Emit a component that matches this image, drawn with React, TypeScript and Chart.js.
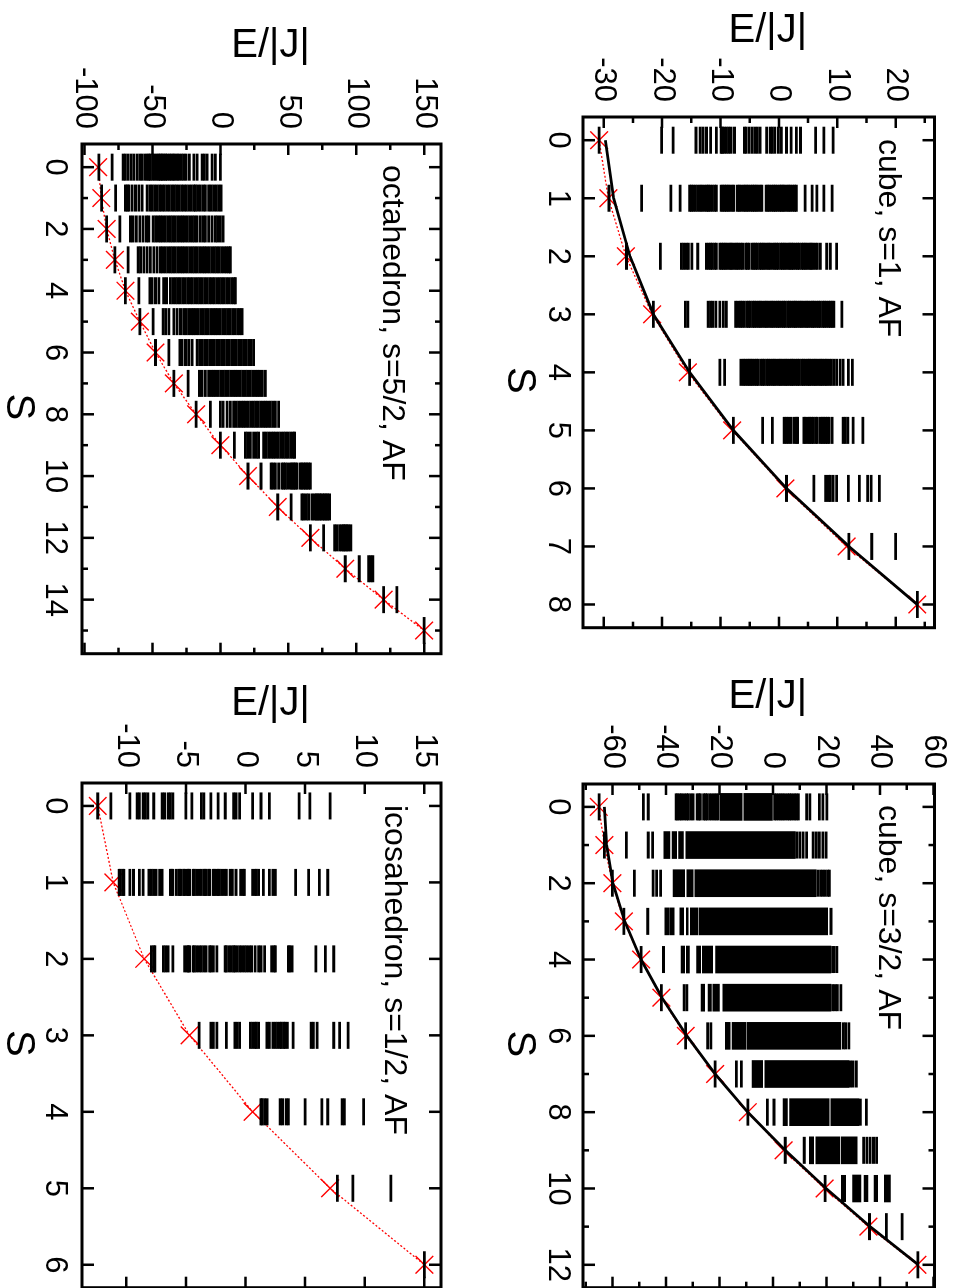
import React, { useEffect, useRef } from "react";
import { Chart, registerables } from "chart.js";

Chart.register(...registerables);

const FONT = '"Liberation Sans", Arial, Helvetica, sans-serif';

// ---------------- Panel: cube, s=1, AF ----------------
const cube1Spins = [0, 1, 2, 3, 4, 5, 6, 7, 8];
const cube1Levels: number[][] = [
  [-30.8, -20.1, -18.1, -14.2, -13.5, -13.0, -12.4, -11.7, -10.7, -9.9, -9.7, -9.4, -9.0, -8.6, -8.2, -7.6, -5.9, -5.6, -5.1, -4.6, -4.1, -3.7, -3.2, -2.1, -1.5, -1.1, -0.7, -0.1, 0.4, 1.3, 2.1, 3.0, 3.7, 6.3, 7.7, 9.3],
  [-29.1, -23.5, -18.5, -16.9, -15.3, -15.0, -14.7, -14.3, -13.9, -13.5, -13.2, -12.8, -12.4, -12.1, -11.8, -11.4, -11.0, -10.7, -9.9, -9.6, -9.3, -9.0, -8.7, -8.4, -8.0, -7.7, -7.1, -6.8, -6.5, -6.1, -5.8, -5.5, -5.2, -4.8, -4.5, -4.2, -3.9, -3.6, -3.2, -2.9, -2.2, -1.9, -1.6, -1.2, -0.9, -0.6, -0.3, 0.1, 0.4, 0.7, 1.0, 1.4, 1.7, 2.0, 2.4, 2.7, 3.0, 4.5, 5.7, 6.5, 7.7, 9.1],
  [-26.1, -20.3, -16.7, -16.3, -15.9, -15.5, -14.9, -13.9, -12.4, -12.0, -11.7, -11.4, -11.0, -10.7, -10.1, -9.8, -9.5, -9.2, -8.9, -8.5, -8.2, -7.9, -7.5, -7.2, -6.9, -6.5, -6.2, -5.7, -5.4, -5.1, -4.6, -4.3, -4.0, -3.7, -3.3, -3.0, -2.7, -2.4, -2.0, -1.7, -1.4, -1.0, -0.7, -0.4, -0.1, 0.3, 0.6, 0.9, 1.2, 1.6, 1.9, 2.2, 2.5, 2.9, 3.2, 3.5, 3.9, 4.2, 4.5, 4.8, 5.2, 5.5, 5.8, 6.2, 6.6, 7.1, 8.2, 8.8, 9.9],
  [-21.5, -16.0, -15.6, -12.1, -11.7, -11.3, -10.8, -10.1, -9.5, -9.0, -7.4, -7.0, -6.6, -6.3, -5.9, -5.5, -5.2, -4.9, -4.5, -4.2, -3.9, -3.5, -3.2, -2.9, -2.5, -2.2, -1.9, -1.5, -1.2, -0.9, -0.5, -0.2, 0.1, 0.5, 0.8, 1.1, 1.5, 1.8, 2.1, 2.5, 2.8, 3.1, 3.5, 3.8, 4.1, 4.5, 4.8, 5.1, 5.5, 5.8, 6.1, 6.5, 6.8, 7.1, 7.5, 7.8, 8.1, 8.5, 8.8, 9.1, 9.4, 10.8],
  [-15.3, -10.1, -9.3, -6.5, -6.1, -5.8, -5.4, -5.1, -4.8, -4.5, -4.1, -3.8, -3.5, -3.1, -2.8, -2.5, -2.1, -1.8, -1.5, -1.1, -0.8, -0.5, -0.1, 0.2, 0.5, 0.9, 1.2, 1.5, 1.9, 2.2, 2.5, 2.9, 3.2, 3.5, 3.9, 4.2, 4.5, 4.9, 5.2, 5.5, 5.9, 6.2, 6.5, 6.9, 7.2, 7.5, 7.9, 8.2, 8.6, 9.0, 9.4, 9.9, 10.5, 11.0, 11.9, 12.6],
  [-7.8, -2.8, -1.1, 0.9, 1.3, 1.7, 2.1, 2.6, 3.0, 3.2, 4.3, 4.6, 5.0, 5.3, 5.6, 5.9, 6.3, 6.6, 7.1, 7.4, 7.7, 8.0, 8.3, 8.6, 9.1, 11.0, 11.4, 11.8, 12.7, 14.4],
  [1.3, 6.0, 8.0, 8.5, 8.8, 9.3, 9.9, 11.9, 13.8, 15.2, 15.8, 17.2],
  [12.0, 15.9, 20.0],
  [23.7],
];
const cube1Cross = [-30.8, -29.2, -26.2, -21.7, -15.6, -8.0, 1.1, 11.6, 23.7];
const cube1Curve = [-29.7, -28.3, -25.5, -21.5, -15.3, -7.8, 1.3, 12.0, 23.7];
const cube1SpinTicks = [0, 1, 2, 3, 4, 5, 6, 7, 8];
const cube1SpinMinor: number[] = [];
const cube1EnergyTicks = [-30, -20, -10, 0, 10, 20];
const cube1EnergyMinor = [-25, -15, -5, 5, 15, 25];

// ---------------- Panel: cube, s=3/2, AF ----------------
const cube32Spins = [0, 1, 2, 3, 4, 5, 6, 7, 8, 9, 10, 11, 12];
const cube32Levels: number[][] = [
  [-65.0, -48.4, -46.6, -36.2, -35.6, -34.8, -34.1, -33.2, -32.3, -31.6, -30.7, -29.8, -28.3, -27.7, -27.1, -25.9, -25.2, -24.6, -23.7, -22.8, -22.0, -21.2, -20.5, 0.6, 1.4, 2.2, 3.0, 3.7, 4.5, 5.4, 6.2, 7.0, 7.9, 8.7, 9.5, 12.6, 13.8, 17.4, 18.7, 20.2],
  [-63.0, -54.8, -46.6, -45.0, 8.9, 10.1, 11.3, 12.6, 15.0, 16.2, 17.4, 18.7, 19.9],
  [-60.0, -51.8, -44.8, -43.5, -42.0, 16.8, 17.8, 18.7, 19.5, 20.5, 21.1],
  [-55.7, -46.8, 21.7],
  [-49.3, -40.9, 22.3, 22.9, 23.9],
  [-41.7, -33.2, -32.2, 22.3, 23.2, 24.1, 25.4],
  [-32.6, -24.4, -23.2, 26.3, 27.2, 28.4],
  [-21.6, -13.7, -11.8, 29.0, 30.0, 31.2],
  [-9.4, -2.1, 0.4, 32.7, 34.9],
  [4.6, 11.7, 33.9, 35.1, 36.3, 37.6, 38.8],
  [19.5, 26.0, 26.8, 34.5, 35.1, 38.2, 38.8],
  [36.1, 42.4, 48.3],
  [54.2],
];
// unresolved dense groups of levels: [S, lowest E, highest E]
const cube32Bands: number[][] = [
  [0, -19.8, -11.5], [0, -10.9, -0.2],
  [1, -40.8, -38.5], [1, -37.7, -36.0], [1, -35.3, -33.5], [1, -32.6, 8.3],
  [2, -37.3, -33.0], [2, -32.2, -29.8], [2, -29.2, 16.2],
  [3, -40.4, -39.0], [3, -38.6, -36.9], [3, -34.8, -33.4], [3, -32.4, -31.7], [3, -30.9, -28.0], [3, -27.6, 20.5],
  [4, -34.3, -33.0], [4, -32.4, -31.2], [4, -28.5, -27.0], [4, -26.4, -22.5], [4, -21.4, 21.7],
  [5, -26.9, -25.5], [5, -24.2, -23.0], [5, -22.5, -20.0], [5, -18.7, 21.7],
  [6, -17.8, -16.0], [6, -15.3, -10.0], [6, -9.6, 25.4],
  [7, -7.8, -3.8], [7, -3.0, 28.4],
  [8, 3.8, 5.4], [8, 6.2, 21.0], [8, 21.6, 32.1],
  [9, 13.6, 15.2], [9, 16.0, 25.0], [9, 25.6, 31.5],
  [10, 29.8, 32.9], [10, 41.6, 43.9],
];
const cube32Cross = [-65.1, -63.0, -60.0, -55.7, -49.3, -41.7, -32.6, -21.6, -9.4, 4.0, 19.3, 35.7, 54.0];
const cube32Curve = [-63.0, -62.2, -59.8, -55.4, -49.3, -41.5, -32.2, -21.6, -9.4, 4.6, 19.9, 36.3, 54.4];
const cube32SpinTicks = [0, 2, 4, 6, 8, 10, 12];
const cube32SpinMinor = [1, 3, 5, 7, 9, 11];
const cube32EnergyTicks = [-60, -40, -20, 0, 20, 40, 60];
const cube32EnergyMinor = [-70, -50, -30, -10, 10, 30, 50];

// ---------------- Panel: octahedron, s=5/2, AF ----------------
const octaSpins = [0, 1, 2, 3, 4, 5, 6, 7, 8, 9, 10, 11, 12, 13, 14, 15];
const octaLevels: number[][] = [
  [-89.5, -79.7, -71.6, -69.9, -67.9, -65.7, -63.7, -61.3, -59.3, -57.6, -55.6, -53.9, -52.7, -51.5, -49.8, -48.3, -46.6, -45.3, -44.1, -42.9, -41.7, -40.4, -39.2, -37.5, -36.3, -34.8, -33.6, -31.9, -30.6, -28.7, -27.0, -25.2, -22.8, -19.6, -17.2, -13.5, -11.8, -9.8, -6.1, -3.7, 0.0],
  [-87.5, -77.2, -69.9, -68.6, -67.4, -65.0, -62.5, -60.0, -57.6, -53.9, -52.0, -50.2, -48.5, -46.6, -44.8, -43.0, -41.2, -39.4, -37.6, -35.8, -34.0, -32.2, -30.4, -28.6, -26.8, -25.0, -23.2, -21.4, -19.6, -18.4, -16.7, -14.7, -12.7, -11.0, -8.6, -6.9, -4.9, -2.9, -1.2, 0.5],
  [-83.8, -74.0, -66.2, -64.2, -61.8, -59.3, -56.9, -54.4, -52.7, -49.5, -47.7, -45.9, -44.1, -42.3, -40.5, -38.7, -36.9, -35.1, -33.3, -31.5, -29.7, -27.9, -26.1, -24.3, -22.5, -20.7, -18.9, -17.2, -14.7, -12.7, -11.0, -8.6, -6.1, -3.7, -2.0, 0.0, 2.0],
  [-77.7, -67.9, -60.5, -58.8, -56.4, -53.9, -51.5, -49.0, -46.6, -44.1, -42.3, -40.5, -38.7, -36.9, -35.1, -33.3, -31.5, -29.7, -27.9, -26.1, -24.3, -22.5, -20.7, -18.9, -17.1, -15.3, -13.5, -11.7, -9.9, -8.1, -6.3, -4.5, -2.7, -0.9, 0.9, 2.7, 4.5, 6.3, 7.4],
  [-69.9, -60.0, -52.0, -50.2, -47.8, -45.3, -41.7, -39.7, -36.8, -35.0, -33.2, -31.4, -29.6, -27.8, -26.0, -24.2, -22.4, -20.6, -18.8, -17.0, -15.2, -13.4, -11.6, -9.8, -8.0, -6.2, -4.4, -2.6, -0.8, 1.0, 2.8, 4.6, 6.4, 8.2, 10.0, 11.0],
  [-59.3, -49.5, -42.2, -40.4, -38.0, -34.3, -31.9, -29.4, -27.0, -25.2, -23.4, -21.6, -19.8, -18.0, -16.2, -14.4, -12.6, -10.8, -9.0, -7.2, -5.4, -3.6, -1.8, 0.0, 1.8, 3.6, 5.4, 7.2, 9.0, 10.8, 12.6, 14.4, 15.9],
  [-47.8, -38.0, -29.9, -28.2, -25.7, -23.3, -20.8, -17.2, -15.2, -13.4, -11.6, -9.8, -8.0, -6.2, -4.4, -2.6, -0.8, 1.0, 2.8, 4.6, 6.4, 8.2, 10.0, 11.8, 13.6, 15.4, 17.2, 19.0, 20.8, 22.6, 24.5],
  [-34.3, -23.8, -15.4, -13.5, -11.0, -8.6, -6.9, -5.1, -3.3, -1.5, 0.3, 2.1, 3.9, 5.7, 7.5, 9.3, 11.1, 12.9, 14.7, 16.5, 18.3, 20.1, 21.9, 23.7, 25.5, 27.3, 29.1, 30.9, 33.1],
  [-17.9, -7.4, 0.0, 2.0, 4.9, 7.4, 9.8, 11.6, 13.4, 15.2, 17.0, 18.8, 20.6, 22.4, 24.2, 26.0, 27.8, 29.6, 31.4, 33.2, 35.0, 36.8, 38.6, 40.4, 42.9],
  [0.0, 10.3, 18.4, 20.1, 22.1, 24.5, 26.5, 28.2, 31.9, 33.7, 35.5, 37.3, 39.1, 40.9, 42.7, 44.5, 46.3, 48.1, 49.9, 51.7, 53.5, 54.7],
  [20.3, 29.9, 37.3, 38.7, 40.4, 42.9, 45.3, 46.6, 47.8, 49.5, 51.5, 52.7, 53.9, 55.1, 56.4, 58.8, 60.0, 61.3, 62.5, 63.7, 65.0, 66.2],
  [42.2, 52.0, 60.0, 61.3, 63.2, 65.0, 67.4, 69.1, 70.6, 71.6, 73.0, 74.0, 75.5, 76.5, 77.9, 78.9, 80.4],
  [66.2, 76.0, 84.1, 85.8, 87.7, 89.5, 90.7, 91.9, 93.1, 94.4, 96.1],
  [91.9, 102.2, 109.1, 110.8, 112.3],
  [120.1, 129.9],
  [150.0],
];
const octaCross = [-90.0, -87.7, -83.8, -77.7, -69.9, -59.3, -47.8, -34.3, -17.9, 0.0, 20.3, 42.2, 66.2, 91.9, 120.1, 150.0];
const octaSpinTicks = [0, 2, 4, 6, 8, 10, 12, 14];
const octaSpinMinor = [1, 3, 5, 7, 9, 11, 13, 15];
const octaEnergyTicks = [-100, -50, 0, 50, 100, 150];
const octaEnergyMinor = [-75, -25, 25, 75, 125];

// ---------------- Panel: icosahedron, s=1/2, AF ----------------
const icosaSpins = [0, 1, 2, 3, 4, 5, 6];
const icosaLevels: number[][] = [
  [-12.4, -11.3, -9.7, -9.1, -8.9, -8.6, -8.4, -8.2, -7.7, -7.0, -6.8, -6.5, -6.3, -6.1, -5.0, -4.5, -3.7, -3.5, -2.9, -2.3, -1.7, -1.0, -0.8, -0.5, 0.6, 1.3, 2.0, 4.5, 5.4, 7.1],
  [-10.6, -10.5, -10.3, -10.2, -9.7, -9.4, -8.9, -8.6, -8.1, -7.9, -7.7, -7.5, -7.2, -7.0, -6.3, -6.2, -6.1, -5.8, -5.6, -5.5, -5.4, -5.2, -5.1, -4.9, -4.8, -4.7, -4.4, -4.3, -4.1, -3.9, -3.7, -3.5, -3.4, -3.3, -3.1, -3.0, -2.7, -2.6, -2.4, -2.3, -2.2, -2.0, -1.8, -1.6, -1.3, -1.1, -0.8, -0.4, -0.2, -0.1, 0.6, 0.8, 0.9, 1.1, 1.5, 2.0, 2.3, 2.5, 4.2, 5.3, 6.2, 6.9],
  [-7.9, -7.7, -7.6, -6.9, -6.7, -6.5, -6.1, -5.1, -4.9, -4.8, -4.7, -4.4, -4.3, -4.1, -3.9, -3.7, -3.5, -3.3, -3.0, -2.9, -2.7, -2.4, -1.7, -1.6, -1.4, -1.2, -1.0, -0.9, -0.7, -0.5, -0.3, -0.1, 0.1, 0.3, 0.5, 0.8, 1.1, 1.3, 1.6, 2.2, 2.4, 2.5, 3.6, 3.7, 3.9, 5.9, 6.7, 7.4],
  [-3.9, -2.9, -2.7, -2.4, -1.6, -0.9, -0.7, -0.5, 0.4, 0.6, 0.8, 0.9, 1.1, 1.8, 2.0, 2.3, 2.5, 2.7, 2.9, 3.0, 3.2, 3.3, 3.5, 4.0, 5.5, 5.7, 6.0, 7.4, 7.9, 8.6],
  [1.3, 1.4, 1.6, 1.8, 2.9, 3.1, 3.4, 3.6, 5.0, 6.4, 6.9, 8.1, 8.3, 9.9],
  [7.7, 9.0, 12.2],
  [15.0],
];
const icosaCross = [-12.4, -11.1, -8.5, -4.7, 0.6, 7.1, 15.0];
const icosaSpinTicks = [0, 1, 2, 3, 4, 5, 6];
const icosaSpinMinor: number[] = [];
const icosaEnergyTicks = [-10, -5, 0, 5, 10, 15];
const icosaEnergyMinor: number[] = [];

interface Panel {
  id: string;
  label: string;
  box: number[]; // canvas left, top, width, height (unrotated figure)
  area: number[]; // plot area left, top, right, bottom inside canvas
  sRange: number[];
  eRange: number[];
  spins: number[];
  levels: number[][];
  bands: number[][];
  cross: number[];
  curve: number[] | null;
  sTicks: number[];
  sMinor: number[];
  eTicks: number[];
  eMinor: number[];
  labelPos: number[];
  eTitleGap: number;
  sTickPad: number;
}

const PANELS: Panel[] = [
  {
    id: "cube1", label: "cube, s=1, AF",
    box: [0, 0, 644, 482], area: [117, 22, 630, 382],
    sRange: [-0.4, 8.4], eRange: [-33.55, 26.65],
    spins: cube1Spins, levels: cube1Levels, bands: [], cross: cube1Cross, curve: cube1Curve,
    sTicks: cube1SpinTicks, sMinor: cube1SpinMinor, eTicks: cube1EnergyTicks, eMinor: cube1EnergyMinor,
    labelPos: [22, 55], eTitleGap: 86, sTickPad: 10,
  },
  {
    id: "cube32", label: "cube, s=3/2, AF",
    box: [644, 0, 660, 482], area: [140, 22, 652, 382],
    sRange: [-0.6, 12.6], eRange: [-71.0, 60.4],
    spins: cube32Spins, levels: cube32Levels, bands: cube32Bands, cross: cube32Cross, curve: cube32Curve,
    sTicks: cube32SpinTicks, sMinor: cube32SpinMinor, eTicks: cube32EnergyTicks, eMinor: cube32EnergyMinor,
    labelPos: [21, 55], eTitleGap: 87, sTickPad: 10,
  },
  {
    id: "octa", label: "octahedron, s=5/2, AF",
    box: [0, 482, 670, 483], area: [144, 42, 655, 401],
    sRange: [-0.75, 15.75], eRange: [-101.9, 162.4],
    spins: octaSpins, levels: octaLevels, bands: [], cross: octaCross, curve: null,
    sTicks: octaSpinTicks, sMinor: octaSpinMinor, eTicks: octaEnergyTicks, eMinor: octaEnergyMinor,
    labelPos: [21, 58], eTitleGap: 98, sTickPad: 12,
  },
  {
    id: "icosa", label: "icosahedron, s=1/2, AF",
    box: [644, 482, 660, 483], area: [139, 42, 652, 401],
    sRange: [-0.3, 6.3], eRange: [-13.72, 16.4],
    spins: icosaSpins, levels: icosaLevels, bands: [], cross: icosaCross, curve: null,
    sTicks: icosaSpinTicks, sMinor: icosaSpinMinor, eTicks: icosaEnergyTicks, eMinor: icosaEnergyMinor,
    labelPos: [22, 56], eTitleGap: 79, sTickPad: 12,
  },
];

function makeDecor(p: Panel) {
  return {
    id: "decor_" + p.id,
    afterDraw(chart: any) {
      const { ctx, chartArea: ca, scales } = chart;
      const xs = scales.x;
      const ys = scales.y;
      ctx.save();
      ctx.strokeStyle = "#000";
      ctx.lineWidth = 2.5;
      ctx.beginPath();
      const tickX = (vals: number[], len: number) =>
        vals.forEach((v) => {
          const px = xs.getPixelForValue(v);
          ctx.moveTo(px, ca.bottom);
          ctx.lineTo(px, ca.bottom - len);
          ctx.moveTo(px, ca.top);
          ctx.lineTo(px, ca.top + len);
        });
      const tickY = (vals: number[], len: number) =>
        vals.forEach((v) => {
          const py = ys.getPixelForValue(v);
          ctx.moveTo(ca.left, py);
          ctx.lineTo(ca.left + len, py);
          ctx.moveTo(ca.right, py);
          ctx.lineTo(ca.right - len, py);
        });
      tickX(p.sTicks, 12);
      tickX(p.sMinor, 6);
      tickY(p.eTicks, 11);
      tickY(p.eMinor, 6);
      ctx.stroke();
      ctx.lineWidth = 3;
      ctx.strokeRect(ca.left, ca.top, ca.right - ca.left, ca.bottom - ca.top);

      ctx.fillStyle = "#000";
      ctx.font = `32px ${FONT}`;
      ctx.textAlign = "left";
      ctx.textBaseline = "alphabetic";
      ctx.fillText(p.label, ca.left + p.labelPos[0], ca.top + p.labelPos[1]);

      ctx.font = `40px ${FONT}`;
      ctx.textAlign = "center";
      ctx.textBaseline = "middle";
      ctx.fillText("S", (ca.left + ca.right) / 2 + 8, ca.bottom + 64);
      ctx.translate(ca.left - p.eTitleGap, (ca.top + ca.bottom) / 2 - 9);
      ctx.rotate(-Math.PI / 2);
      ctx.fillText("E/|J|", 0, 0);
      ctx.restore();
    },
  };
}

function PanelChart({ p }: { p: Panel }) {
  const ref = useRef<HTMLCanvasElement | null>(null);
  useEffect(() => {
    const canvas = ref.current;
    if (!canvas) return;
    const [, , w, h] = p.box;
    const [aL, aT, aR, aB] = p.area;

    const levelPts = p.levels.flatMap((row, i) => row.map((e) => ({ x: p.spins[i], y: e })));
    const crossPts = p.cross.map((e, i) => ({ x: p.spins[i], y: e }));
    const datasets: any[] = [];
    datasets.push({
      type: "scatter",
      data: levelPts,
      showLine: false,
      pointStyle: "line",
      pointRadius: 13.5,
      pointHoverRadius: 13.5,
      pointBorderWidth: 2.8,
      pointHoverBorderWidth: 2.8,
      pointBorderColor: "#000",
      borderWidth: 2.8,
      borderColor: "#000",
      backgroundColor: "#000",
    });
    if (p.curve) {
      datasets.push({
        type: "scatter",
        data: p.curve.map((e, i) => ({ x: p.spins[i], y: e })),
        showLine: true,
        borderColor: "#000",
        borderWidth: 2.8,
        pointRadius: 0,
        pointHoverRadius: 0,
        tension: 0,
      });
    }
    if (p.bands.length) {
      datasets.push({
        type: "bar",
        data: p.bands.map((b) => ({ x: b[0], y: [b[1], b[2]] })),
        backgroundColor: "#000",
        borderWidth: 0,
        barThickness: 27,
        grouped: false,
      });
    }
    datasets.push({
      type: "scatter",
      data: crossPts,
      showLine: true,
      borderColor: "#ff0000",
      borderWidth: 1.3,
      borderDash: [2, 2],
      pointStyle: "crossRot",
      pointRadius: 12.5,
      pointHoverRadius: 12.5,
      pointBorderColor: "#ff0000",
      pointBorderWidth: 1.4,
      pointBackgroundColor: "#ff0000",
      tension: 0,
    });

    const tickFont = { family: FONT, size: 31, lineHeight: 1 };
    const chart = new Chart(canvas, {
      type: "scatter",
      data: { datasets },
      options: {
        responsive: false,
        maintainAspectRatio: false,
        animation: false,
        devicePixelRatio: 1,
        events: [],
        layout: { padding: { left: 0, top: aT, right: w - aR, bottom: 0 } },
        plugins: { legend: { display: false }, tooltip: { enabled: false }, title: { display: false } },
        scales: {
          x: {
            type: "linear",
            min: p.sRange[0],
            max: p.sRange[1],
            offset: false,
            grid: { display: false, drawTicks: false, offset: false },
            border: { display: false },
            title: { display: false },
            ticks: {
              font: tickFont,
              color: "#000",
              padding: p.sTickPad,
              maxRotation: 0,
              minRotation: 0,
              autoSkip: false,
              callback: (v: any) => String(v),
            },
            afterBuildTicks: (s: any) => {
              s.ticks = p.sTicks.map((v) => ({ value: v }));
            },
            afterFit: (s: any) => {
              s.height = h - aB;
            },
          },
          y: {
            type: "linear",
            min: p.eRange[0],
            max: p.eRange[1],
            offset: false,
            beginAtZero: false,
            grid: { display: false, drawTicks: false },
            border: { display: false },
            title: { display: false },
            ticks: {
              font: tickFont,
              color: "#000",
              padding: 15,
              autoSkip: false,
              callback: (v: any) => String(v),
            },
            afterBuildTicks: (s: any) => {
              s.ticks = p.eTicks.map((v) => ({ value: v }));
            },
            afterFit: (s: any) => {
              s.width = aL;
            },
          },
        },
      } as any,
      plugins: [makeDecor(p)],
    });
    return () => chart.destroy();
  }, [p]);

  const [l, t, w, h] = p.box;
  return (
    <canvas
      ref={ref}
      width={w}
      height={h}
      style={{ position: "absolute", left: l, top: t, width: w, height: h }}
    />
  );
}

export default function App() {
  return (
    <div
      style={{
        position: "fixed",
        left: 0,
        top: 0,
        width: 1288,
        height: 965,
        transformOrigin: "0 0",
        transform: "translate(965px, 0px) rotate(90deg)",
        overflow: "hidden",
        background: "#fff",
      }}
    >
      {PANELS.map((p) => (
        <PanelChart key={p.id} p={p} />
      ))}
    </div>
  );
}
